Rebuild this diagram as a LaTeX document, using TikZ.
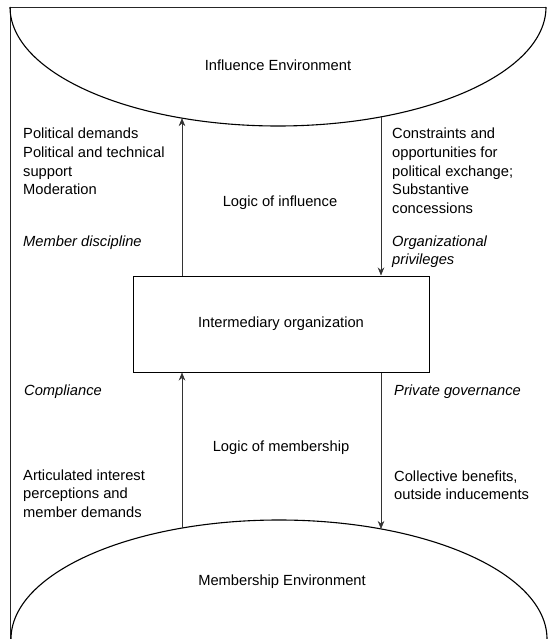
\documentclass[tikz,border=0pt]{standalone}
\usepackage{fontspec}
\setmainfont{Liberation Sans}
\usetikzlibrary{arrows.meta}
\begin{document}
\begin{tikzpicture}[x=1pt,y=-1pt,
  lbl/.style={font=\fontsize{14.7}{18.5}\selectfont, inner sep=0pt, align=left, anchor=base west},
  ctr/.style={font=\fontsize{14.7}{18.5}\selectfont, inner sep=0pt, anchor=base},
  frameln/.style={line width=0.7pt, black!85},
  envln/.style={line width=1.1pt},
  arr/.style={line width=0.6pt, black!80, -{Stealth[length=8pt,width=6.5pt]}},
  boxst/.style={draw, line width=1pt, minimum width=296pt, minimum height=96pt, inner sep=0pt,
    font=\fontsize{14.7}{18.5}\selectfont}]
\useasboundingbox (0,0) rectangle (547,639);
% frame
\draw[frameln] (546,7) -- (10,7) -- (10,639);
% environments
\draw[envln] (10,7) arc[start angle=180,end angle=360,x radius=268pt,y radius=119pt];
\draw[envln] (11,639) arc[start angle=180,end angle=0,x radius=268pt,y radius=119pt];
\node[ctr] (ie) at (278,71) {Influence Environment};
\node[ctr] (me) at (282,585) {Membership Environment};
% box
\node[boxst] (io) at (281,324) {Intermediary organization};
% arc points
\coordinate (ua) at (182,118.1);
\coordinate (ub) at (381,116.9);
\coordinate (la) at (182,528.1);
\coordinate (lb) at (381,529);
% arrows
\draw[arr] (io.north -| ua) -- (ua);
\draw[arr] (ub) -- (io.north -| ub);
\draw[arr] (la) -- (io.south -| la);
\draw[arr] (io.south -| lb) -- (lb);
% labels upper (base anchor = last line's baseline)
\node[lbl] (lt) at (23,194.5) {Political demands\\Political and technical\\support\\Moderation};
\node[lbl] (md) at (23,246) {\itshape Member discipline};
\node[ctr] (loi) at (280,206) {Logic of influence};
\node[lbl] (rt) at (392,213) {Constraints and\\opportunities for\\political exchange;\\Substantive\\concessions};
\node[lbl] (op) at (392,264.5) {\itshape Organizational\\\itshape privileges};
% labels lower
\node[lbl] (cp) at (24,395) {\itshape Compliance};
\node[lbl] (pg) at (394,395) {\itshape Private governance};
\node[ctr] (lom) at (281,451) {Logic of membership};
\node[lbl] (ai) at (23,517) {Articulated interest\\perceptions and\\member demands};
\node[lbl] (cb) at (394,499.5) {Collective benefits,\\outside inducements};
\end{tikzpicture}
\end{document}
